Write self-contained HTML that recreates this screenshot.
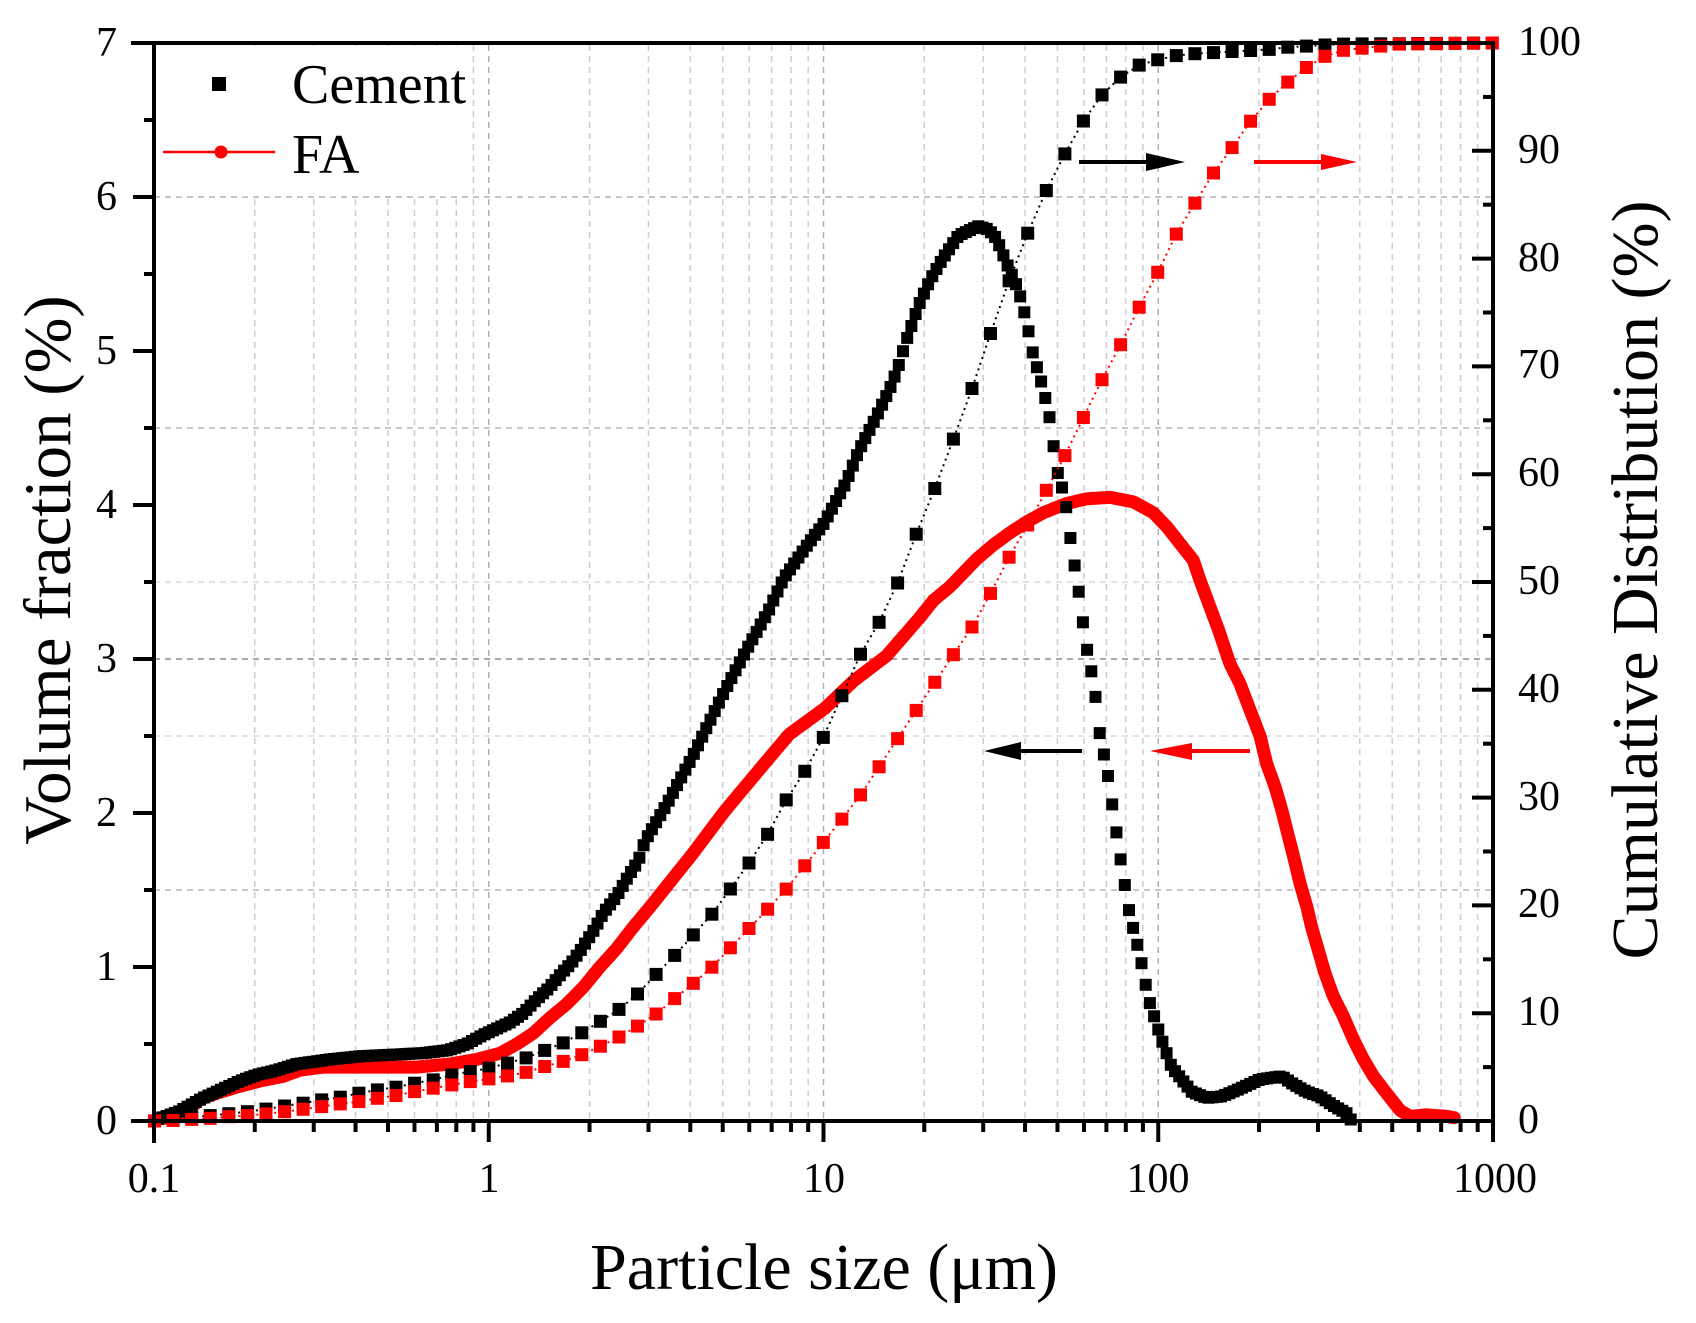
<!DOCTYPE html>
<html>
<head>
<meta charset="utf-8">
<style>
html,body{margin:0;padding:0;background:#fff;}
svg{display:block;}
text{font-family:"Liberation Serif","Times New Roman",serif;fill:#000;}
</style>
</head>
<body>
<svg id="c" width="1696" height="1323" viewBox="0 0 1696 1323" xmlns="http://www.w3.org/2000/svg">
<rect width="1696" height="1323" fill="#fff"/>
<g id="grid"></g>
<rect x="157" y="46" width="315" height="149" fill="#fff"/>
<g id="data"></g>
<g id="arrows">
 <line x1="1079" y1="162" x2="1152" y2="162" stroke="#000" stroke-width="4"/>
 <polygon points="1146,153 1185,162 1146,171" fill="#000"/>
 <line x1="1254" y1="162" x2="1326" y2="162" stroke="#f00" stroke-width="4"/>
 <polygon points="1321,154 1357,162 1321,170" fill="#f00"/>
 <line x1="1016" y1="751" x2="1082" y2="751" stroke="#000" stroke-width="4"/>
 <polygon points="1021,742 984,751 1021,760" fill="#000"/>
 <line x1="1186" y1="751" x2="1250" y2="751" stroke="#f00" stroke-width="4"/>
 <polygon points="1192,743 1150,751 1192,760" fill="#f00"/>
</g>
<g id="axes" stroke="#000" stroke-width="4" fill="none">
 <line x1="131" y1="43" x2="1495" y2="43"/>
 <line x1="154" y1="41" x2="154" y2="1143"/>
 <line x1="1493" y1="41" x2="1493" y2="1123"/>
 <line x1="131" y1="1121" x2="1495" y2="1121"/>
</g>
<g id="ticks" stroke="#000" stroke-width="4"></g>

<!-- legend -->
<rect x="212" y="77" width="14" height="14" fill="#000"/>
<text x="292" y="103" font-size="56">Cement</text>
<line x1="163" y1="152" x2="275" y2="152" stroke="#f00" stroke-width="2.5"/>
<circle cx="221" cy="152" r="6.5" fill="#f00"/>
<text x="292" y="173" font-size="56">FA</text>

<!-- left tick labels -->
<g font-size="42" text-anchor="end">
 <text x="117" y="1134">0</text>
 <text x="117" y="980">1</text>
 <text x="117" y="826">2</text>
 <text x="117" y="672">3</text>
 <text x="117" y="518">4</text>
 <text x="117" y="364">5</text>
 <text x="117" y="210">6</text>
 <text x="117" y="56">7</text>
</g>
<!-- right tick labels -->
<g font-size="42">
 <text x="1518" y="1133">0</text>
 <text x="1518" y="1025">10</text>
 <text x="1518" y="917">20</text>
 <text x="1518" y="810">30</text>
 <text x="1518" y="702">40</text>
 <text x="1518" y="594">50</text>
 <text x="1518" y="486">60</text>
 <text x="1518" y="378">70</text>
 <text x="1518" y="271">80</text>
 <text x="1518" y="163">90</text>
 <text x="1518" y="55">100</text>
</g>
<!-- bottom tick labels -->
<g font-size="42" text-anchor="middle">
 <text x="154" y="1192">0.1</text>
 <text x="489" y="1192">1</text>
 <text x="824" y="1192">10</text>
 <text x="1158" y="1192">100</text>
 <text x="1495" y="1192">1000</text>
</g>
<!-- titles -->
<text x="824" y="1289" font-size="66" text-anchor="middle">Particle size (μm)</text>
<text transform="translate(70,570) rotate(-90)" font-size="67" text-anchor="middle">Volume fraction (%)</text>
<text transform="translate(1657,580) rotate(-90)" font-size="66" text-anchor="middle">Cumulative Distribution (%)</text>
</svg>

<script>
(function(){
const NS='http://www.w3.org/2000/svg';
const L=154,R=1493,T=43,B=1121;
const DX=(R-L)/4;
const UY=(B-T)/7;
const X=lg=>L+DX*(lg+1);
const Y=v=>B-UY*v;
const YC=p=>B-(B-T)*p/100;
function el(parent,tag,attrs){const e=document.createElementNS(NS,tag);for(const k in attrs)e.setAttribute(k,attrs[k]);parent.appendChild(e);return e;}
function interp(pts,x){
  if(x<=pts[0][0])return pts[0][1];
  for(let i=1;i<pts.length;i++){
    if(x<=pts[i][0]){const a=pts[i-1],b=pts[i];return a[1]+(b[1]-a[1])*(x-a[0])/(b[0]-a[0]);}
  }
  return pts[pts.length-1][1];
}

const ceV=[[-1.0,0.0],[-0.992,0.01],[-0.927,0.06],[-0.853,0.15],[-0.813,0.19],[-0.773,0.23],[-0.743,0.26],[-0.693,0.30],[-0.633,0.33],[-0.574,0.37],[-0.474,0.40],[-0.385,0.42],[-0.295,0.43],[-0.200,0.44],[-0.121,0.46],[-0.066,0.50],[-0.016,0.56],[0.063,0.64],[0.103,0.70],[0.143,0.79],[0.178,0.86],[0.218,0.96],[0.248,1.03],[0.278,1.12],[0.317,1.25],[0.342,1.35],[0.382,1.46],[0.417,1.59],[0.447,1.69],[0.467,1.82],[0.53,2.05],[0.607,2.36],[0.704,2.79],[0.775,3.08],[0.835,3.31],[0.880,3.52],[0.948,3.73],[1.001,3.88],[1.066,4.14],[1.105,4.35],[1.157,4.57],[1.197,4.75],[1.221,4.88],[1.246,5.06],[1.283,5.29],[1.318,5.46],[1.353,5.59],[1.403,5.75],[1.462,5.81],[1.492,5.79],[1.517,5.73],[1.547,5.57],[1.582,5.40],[1.605,5.21],[1.626,4.98],[1.657,4.75],[1.677,4.55],[1.697,4.23],[1.721,4.05],[1.741,3.73],[1.763,3.43],[1.783,3.11],[1.809,2.82],[1.826,2.50],[1.848,2.27],[1.871,1.93],[1.891,1.65],[1.914,1.35],[1.946,1.07],[1.970,0.80],[2.005,0.56],[2.040,0.35],[2.070,0.27],[2.100,0.19],[2.145,0.15],[2.190,0.16],[2.244,0.21],[2.304,0.27],[2.369,0.29],[2.403,0.24],[2.443,0.19],[2.483,0.16],[2.523,0.10],[2.563,0.05],[2.578,0.0]];

const faV=[[-1.0,0.0],[-0.992,0.01],[-0.912,0.04],[-0.863,0.14],[-0.813,0.18],[-0.753,0.22],[-0.683,0.26],[-0.614,0.29],[-0.564,0.33],[-0.494,0.35],[-0.365,0.35],[-0.215,0.35],[-0.116,0.37],[-0.036,0.40],[0.034,0.44],[0.084,0.50],[0.133,0.57],[0.183,0.67],[0.233,0.76],[0.283,0.87],[0.332,1.00],[0.382,1.12],[0.432,1.26],[0.482,1.39],[0.607,1.73],[0.704,2.01],[0.80,2.26],[0.897,2.51],[1.004,2.68],[1.091,2.86],[1.188,3.02],[1.248,3.17],[1.288,3.27],[1.328,3.38],[1.378,3.47],[1.418,3.56],[1.458,3.65],[1.507,3.74],[1.557,3.82],[1.607,3.89],[1.657,3.95],[1.726,4.01],[1.786,4.04],[1.856,4.05],[1.926,4.02],[1.985,3.95],[2.025,3.86],[2.065,3.75],[2.105,3.64],[2.125,3.51],[2.18,3.19],[2.214,2.97],[2.244,2.84],[2.274,2.67],[2.304,2.50],[2.324,2.32],[2.349,2.17],[2.369,2.02],[2.384,1.89],[2.404,1.72],[2.424,1.54],[2.444,1.39],[2.458,1.26],[2.478,1.11],[2.498,0.96],[2.523,0.81],[2.553,0.68],[2.583,0.53],[2.613,0.40],[2.643,0.29],[2.682,0.18],[2.722,0.07],[2.752,0.03],[2.80,0.04],[2.862,0.03],[2.887,0.02]];

const ceC=[[-1.0,0],[-0.94,0.2],[-0.887,0.35],[-0.832,0.5],[-0.777,0.68],[-0.722,0.86],[-0.667,1.1],[-0.611,1.39],[-0.556,1.64],[-0.5,1.95],[-0.445,2.2],[-0.39,2.57],[-0.334,2.88],[-0.279,3.12],[-0.223,3.5],[-0.168,3.8],[-0.112,4.27],[-0.057,4.57],[-0.001,4.89],[0.054,5.35],[0.109,5.82],[0.165,6.52],[0.22,7.2],[0.276,8.14],[0.331,9.2],[0.387,10.3],[0.442,11.7],[0.487,13.2],[0.542,14.9],[0.600,16.9],[0.655,18.7],[0.710,21.0],[0.768,23.5],[0.823,26.0],[0.878,29.3],[0.936,32.0],[0.994,35.2],[1.046,38.8],[1.101,42.8],[1.162,46.0],[1.219,49.7],[1.270,53.9],[1.328,58.3],[1.385,63.0],[1.443,67.9],[1.495,72.7],[1.549,77.5],[1.605,82.0],[1.662,86.1],[1.719,89.6],[1.775,92.7],[1.826,95.0],[1.881,96.7],[1.938,97.9],[1.993,98.4],[2.045,98.8],[2.103,99.0],[2.16,99.1],[2.214,99.2],[2.272,99.3],[2.329,99.4],[2.384,99.6],[2.436,99.7],[2.492,99.8],[2.55,99.9],[3.0,100]];

const faC=[[-1.0,0],[-0.943,0.05],[-0.887,0.15],[-0.832,0.25],[-0.777,0.4],[-0.722,0.5],[-0.667,0.65],[-0.611,0.86],[-0.556,1.08],[-0.5,1.33],[-0.445,1.58],[-0.39,1.79],[-0.334,2.1],[-0.279,2.35],[-0.223,2.72],[-0.168,3.03],[-0.112,3.34],[-0.057,3.65],[-0.001,3.9],[0.054,4.17],[0.109,4.48],[0.165,5.04],[0.22,5.5],[0.276,6.12],[0.331,6.9],[0.387,7.76],[0.442,8.75],[0.495,9.8],[0.655,13.9],[0.878,21.1],[1.101,29.8],[1.324,40.3],[1.443,45.8],[1.495,48.7],[1.547,51.9],[1.605,55.0],[1.662,58.3],[1.719,61.6],[1.774,65.1],[1.824,68.3],[1.881,71.6],[1.938,75.2],[1.995,78.5],[2.043,81.7],[2.103,84.8],[2.157,87.6],[2.216,90.1],[2.272,92.6],[2.329,94.7],[2.384,96.3],[2.436,97.6],[2.492,98.7],[2.548,99.3],[2.605,99.5],[2.66,99.7],[2.72,99.9],[3.0,100]];

// grid
const g=document.getElementById('grid');
for(let d=-1;d<3;d++){
  for(let m=1;m<=9;m++){
    if(d==-1&&m==1)continue;
    const x=X(d+Math.log10(m));
    el(g,'line',{x1:x,y1:T+2,x2:x,y2:B,stroke:(m==1?'#b0b0b0':'#d2cad2'),'stroke-width':1.5,'stroke-dasharray':'6 5'});
  }
}
[[6,'#b3aeb3'],[4.5,'#b8b3b8'],[3.5,'#dcd6dc'],[3,'#8c8c8c'],[2.5,'#dcd6dc'],[1.5,'#b8b3b8']].forEach(function(a){
  el(g,'line',{x1:L,y1:Y(a[0]),x2:R,y2:Y(a[0]),stroke:a[1],'stroke-width':1.6,'stroke-dasharray':'6 5'});
});

const D=document.getElementById('data');
// FA volume line
let pts=[];
for(let i=0;;i++){const lg=-1+i*0.004;if(lg>2.887)break;pts.push(X(lg).toFixed(1)+','+Y(interp(faV,lg)).toFixed(1));}
el(D,'polyline',{points:pts.join(' '),fill:'none',stroke:'#f00','stroke-width':13,'stroke-linejoin':'round','stroke-linecap':'round'});
// cement volume squares
for(let i=0;;i++){const lg=-1+i*0.0125;if(lg>2.579)break;const x=X(lg),y=Y(interp(ceV,lg));el(D,'rect',{x:(x-6).toFixed(1),y:(y-6).toFixed(1),width:12,height:12,fill:'#000'});}
// cumulative
function cum(data,color){
  const xs=[];
  for(let n=-3;n<=69;n++){const lg=-0.832+0.0555*n;xs.push([X(lg),YC(interp(data,lg))]);}
  el(D,'polyline',{points:xs.map(a=>a[0].toFixed(1)+','+a[1].toFixed(1)).join(' '),fill:'none',stroke:color,'stroke-width':2,'stroke-dasharray':'2 4'});
  xs.forEach(a=>el(D,'rect',{x:(a[0]-6.5).toFixed(1),y:(a[1]-6.5).toFixed(1),width:13,height:13,fill:color}));
}
cum(ceC,'#000');
cum(faC,'#f00');

// ticks
const tk=document.getElementById('ticks');
function ln(x1,y1,x2,y2){el(tk,'line',{x1:x1,y1:y1,x2:x2,y2:y2});}
for(let v=0;v<=7;v++)ln(133,Y(v),154,Y(v));
for(let v=0.5;v<7;v+=1)ln(144,Y(v),154,Y(v));
for(let d=-1;d<=3;d++){
  ln(X(d),B,X(d),B+21);
  if(d<3)for(let m=2;m<=9;m++){const x=X(d+Math.log10(m));ln(x,B,x,B+11);}
}
for(let p=0;p<=100;p+=10)ln(1472,YC(p),1493,YC(p));
for(let p=5;p<100;p+=10)ln(1483,YC(p),1493,YC(p));
})();
</script>
</body>
</html>
